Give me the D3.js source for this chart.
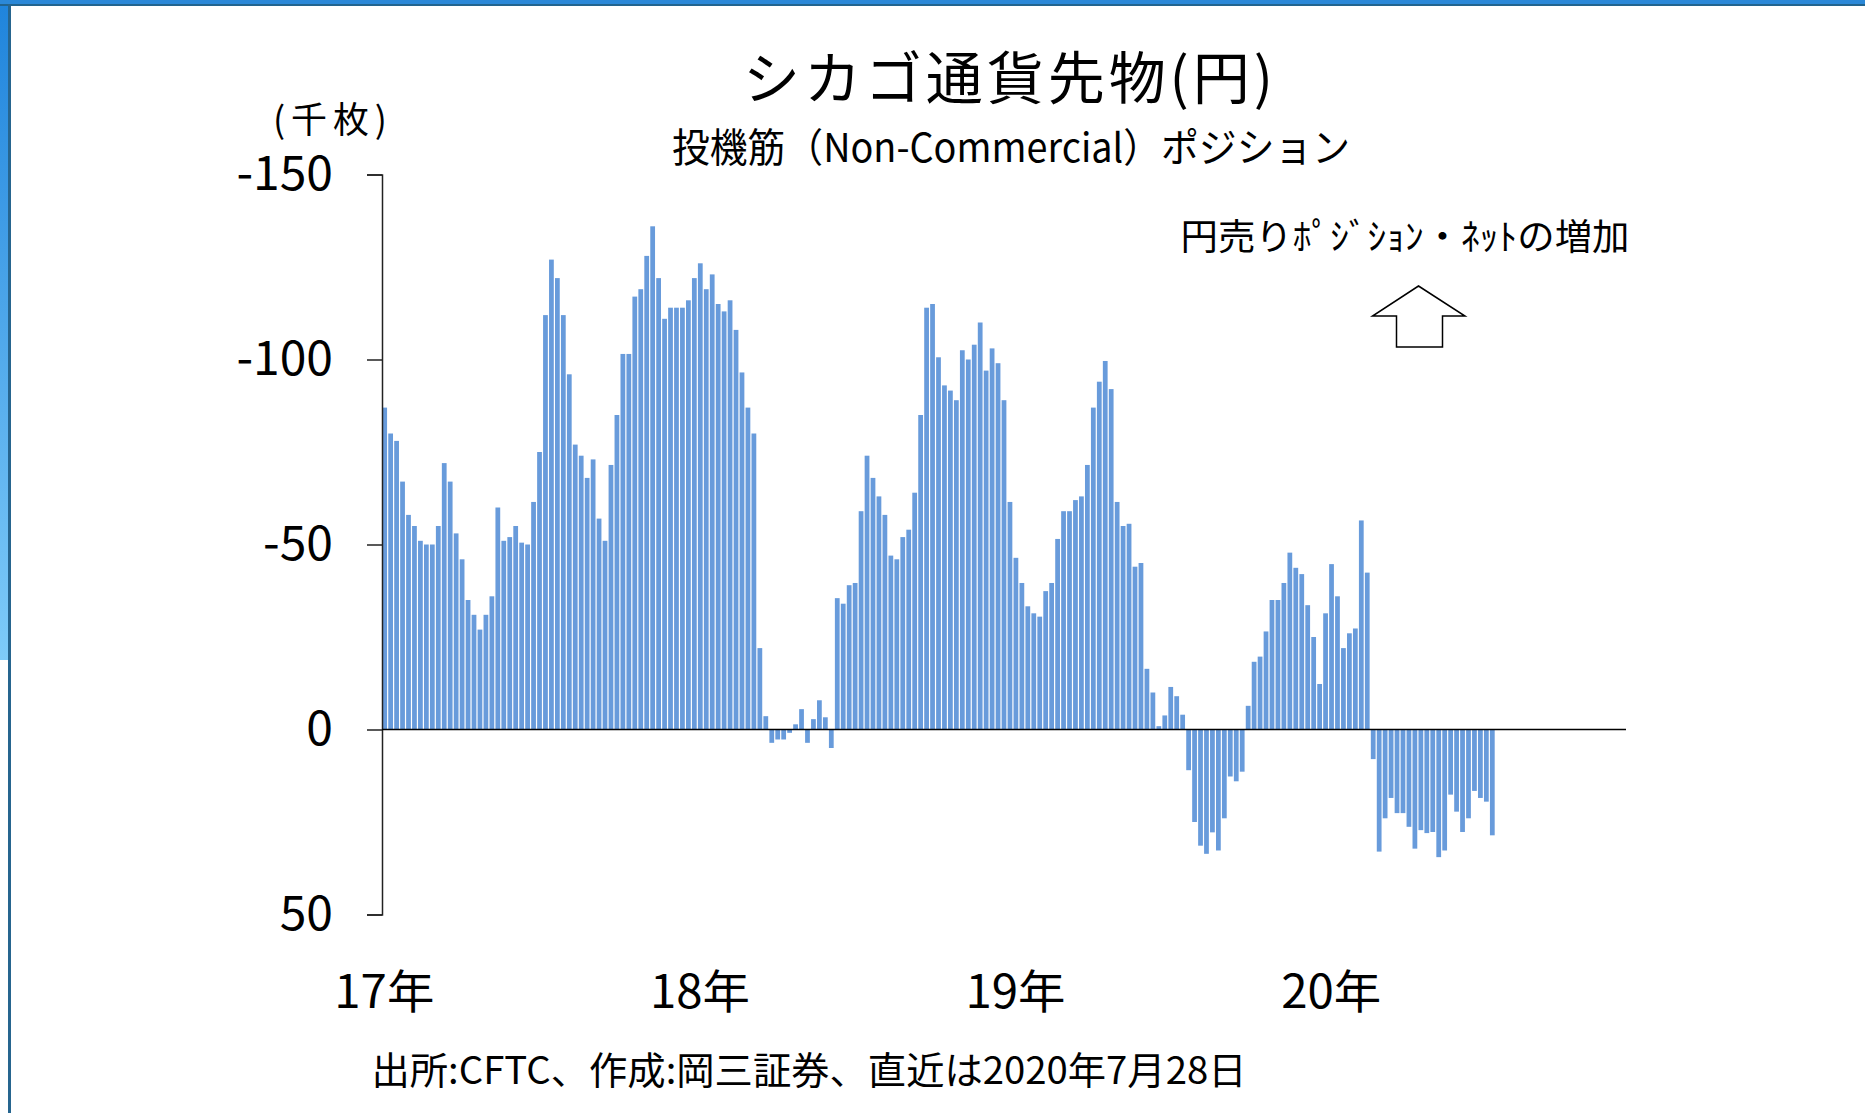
<!DOCTYPE html>
<html>
<head>
<meta charset="utf-8">
<script src="https://cdn.jsdelivr.net/npm/d3@7"></script>
<style>
  html, body { margin: 0; padding: 0; background: #fff; }
  svg { display: block; }
  text { font-family: "Noto Sans CJK JP", "Noto Sans", sans-serif; fill: #000; }
</style>
</head>
<body>
<svg id="chart"></svg>
<script>
// ── DATA ─────────────────────────────────────────────────────────────────
// weekly net non-commercial yen position (thousand contracts), Jan 2017 .. 28 Jul 2020
// negative = net yen short (drawn upward, axis is reversed)
const positions = [
  -87, -80, -78, -67, -58, -55, -51, -50, -50, -55, -72, -67, -53, -46, -35, -31, -27, -31, -36, -60,
  -51, -52, -55, -50.5, -50, -61.5, -75, -112, -127, -122, -112, -96, -77, -74, -68, -73, -57, -51, -71.5, -85,
  -101.5, -101.5, -117, -119, -128, -136, -122, -111, -114, -114, -114, -116, -122, -126, -119, -123, -115, -113, -116, -108,
  -96.5, -87, -80, -22, -3.6, 3.6, 2.7, 2.7, 0.9, -1.4, -5.5, 3.6, -2.8, -7.9, -3.3, 5, -35.5, -34, -39, -39.6,
  -59, -74, -68, -63, -58, -47, -46, -52, -54, -64, -85, -114, -115, -100.6, -93, -91.6, -89, -102.5, -100, -104,
  -110, -97, -103, -99, -89, -61.5, -46.4, -39.6, -33.3, -31.4, -30.5, -37.4, -39.6, -51.5, -59, -59, -62, -63, -71.5, -87,
  -94, -99.6, -92, -61.5, -55, -55.6, -44, -45, -16.4, -10, -0.9, -3.8, -11.5, -9, -4, 11, 25, 31.4, 33.6, 27.8,
  32.7, 24, 12.7, 14, 11.4, -6.4, -18.3, -19.7, -26.5, -35, -35, -39.6, -47.8, -43.7, -42, -33.6, -25, -12.3, -31.4, -44.7,
  -36, -22, -26, -27.3, -56.5, -42.4, 8, 33, 24, 18.5, 22.6, 22.6, 26.3, 32.2, 27.2, 28, 27.7, 34.5, 32.7, 17.6,
  22.2, 27.7, 24, 16.6, 18.5, 19.5, 28.6
];
const SLOT_COUNT = 209;               // weekly slots Jan 2017 .. Dec 2020
const yearLabels = ["17年", "18年", "19年", "20年"];
const yearSlots  = [0, 53, 106, 159];
const yTicks     = [-150, -100, -50, 0, 50];

const TITLE    = "シカゴ通貨先物(円)";
const SUBTITLE = "投機筋（Non-Commercial）ポジション";
const UNIT     = "(千枚)";
const NOTE     = "円売りﾎﾟｼﾞｼｮﾝ・ﾈｯﾄの増加";
const SOURCE   = "出所:CFTC、作成:岡三証券、直近は2020年7月28日";

// ── DIMENSIONS ───────────────────────────────────────────────────────────
const W = 1865, H = 1113;
const plot = { left: 382, right: 1626, top: 174.5, bottom: 914.5 };

const svg = d3.select("#chart")
  .attr("width", W)
  .attr("height", H)
  .attr("viewBox", `0 0 ${W} ${H}`);

// ── FRAME ────────────────────────────────────────────────────────────────
const defs = svg.append("defs");
const grad = defs.append("linearGradient")
  .attr("id", "edge").attr("x1", 0).attr("y1", 0).attr("x2", 0).attr("y2", 1);
grad.append("stop").attr("offset", "0%").attr("stop-color", "#1f84dc");
grad.append("stop").attr("offset", "100%").attr("stop-color", "#7ecbf9");

svg.append("rect").attr("width", W).attr("height", H).attr("fill", "#fff");
svg.append("rect").attr("x", 0).attr("y", 0).attr("width", 8).attr("height", 660).attr("fill", "url(#edge)");
svg.append("rect").attr("x", 0).attr("y", 0).attr("width", W).attr("height", 4).attr("fill", "#2b88d8");
svg.append("rect").attr("x", 0).attr("y", 4).attr("width", W).attr("height", 2).attr("fill", "#22648f");
svg.append("rect").attr("x", 8).attr("y", 4).attr("width", 3).attr("height", H).attr("fill", "#26658f");

// ── SCALES ───────────────────────────────────────────────────────────────
const x = d3.scaleBand()
  .domain(d3.range(SLOT_COUNT))
  .range([plot.left, plot.right])
  .paddingInner(0.2)
  .paddingOuter(0.05);

const y = d3.scaleLinear()
  .domain([-150, 50])
  .range([plot.top, plot.bottom]);

// ── BARS ─────────────────────────────────────────────────────────────────
svg.append("g")
  .selectAll("rect")
  .data(positions)
  .join("rect")
    .attr("x", (d, i) => x(i))
    .attr("width", x.bandwidth())
    .attr("y", d => Math.min(y(d), y(0)))
    .attr("height", d => Math.abs(y(d) - y(0)))
    .attr("fill", "#689bdb");

// ── AXES ─────────────────────────────────────────────────────────────────
svg.append("g")
  .attr("transform", `translate(${plot.left},0)`)
  .call(d3.axisLeft(y).tickValues(yTicks).tickSize(15).tickPadding(34).tickFormat(d => d))
  .call(ax => ax.select(".domain").attr("stroke", "#222").attr("stroke-width", 1.5))
  .call(ax => ax.selectAll(".tick line").attr("stroke", "#222").attr("stroke-width", 1.5))
  .call(ax => ax.selectAll(".tick text")
    .style("font-family", "'Noto Sans CJK JP', sans-serif")
    .style("font-size", "48px")
    .attr("fill", "#000"));

// zero line
svg.append("line")
  .attr("x1", plot.left).attr("x2", plot.right)
  .attr("y1", y(0)).attr("y2", y(0))
  .attr("stroke", "#000").attr("stroke-width", 1.6);

// year labels
svg.append("g")
  .selectAll("text")
  .data(yearLabels)
  .join("text")
    .attr("x", (d, i) => x(yearSlots[i]) + 2)
    .attr("y", 988)
    .attr("text-anchor", "middle")
    .attr("dominant-baseline", "central")
    .attr("textLength", 100)
    .attr("lengthAdjust", "spacingAndGlyphs")
    .style("font-size", "46px")
    .text(d => d);

// ── TEXTS ────────────────────────────────────────────────────────────────
svg.append("text")
  .attr("x", 1008).attr("y", 74)
  .attr("text-anchor", "middle").attr("dominant-baseline", "central")
  .attr("textLength", 530).attr("lengthAdjust", "spacing")
  .style("font-size", "57px")
  .text(TITLE);

svg.append("text")
  .attr("x", 1011).attr("y", 145)
  .attr("text-anchor", "middle").attr("dominant-baseline", "central")
  .attr("textLength", 678).attr("lengthAdjust", "spacingAndGlyphs")
  .style("font-size", "40px")
  .text(SUBTITLE);

svg.append("text")
  .attr("x", 330).attr("y", 117)
  .attr("text-anchor", "middle").attr("dominant-baseline", "central")
  .attr("textLength", 114).attr("lengthAdjust", "spacing")
  .style("font-size", "36px")
  .text(UNIT);

svg.append("text")
  .attr("x", 1405).attr("y", 234)
  .attr("text-anchor", "middle").attr("dominant-baseline", "central")
  .attr("textLength", 449).attr("lengthAdjust", "spacingAndGlyphs")
  .style("font-size", "36px")
  .text(NOTE);

svg.append("text")
  .attr("x", 809).attr("y", 1067)
  .attr("text-anchor", "middle").attr("dominant-baseline", "central")
  .attr("textLength", 875).attr("lengthAdjust", "spacingAndGlyphs")
  .style("font-size", "38px")
  .text(SOURCE);

// hollow up-arrow below the note
const ax0 = 1418.5, ay0 = 286;
const arrow = [
  [ax0, ay0], [ax0 + 46.5, ay0 + 30], [ax0 + 24, ay0 + 30], [ax0 + 24, ay0 + 61],
  [ax0 - 22, ay0 + 61], [ax0 - 22, ay0 + 30], [ax0 - 46, ay0 + 30]
];
svg.append("path")
  .attr("d", d3.line()(arrow) + "Z")
  .attr("fill", "#fff")
  .attr("stroke", "#000")
  .attr("stroke-width", 1.5);
</script>
</body>
</html>
